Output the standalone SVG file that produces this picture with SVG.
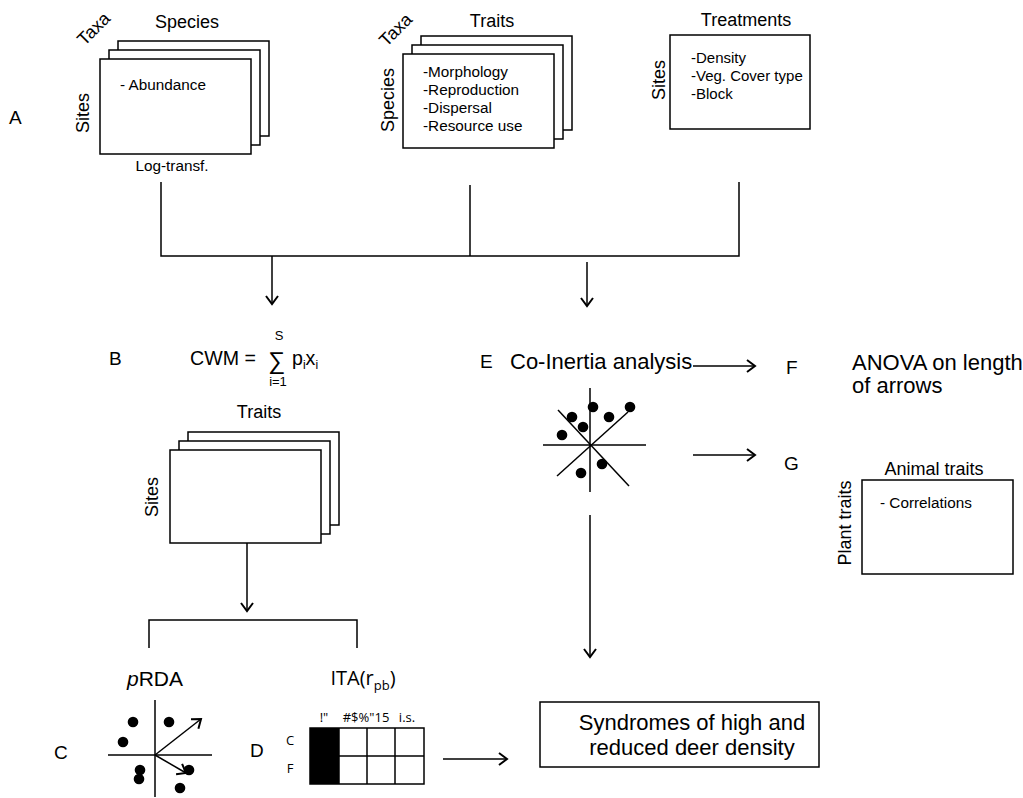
<svg xmlns="http://www.w3.org/2000/svg" width="1023" height="798" viewBox="0 0 1023 798">
<defs>
<marker id="ah" markerWidth="14" markerHeight="14" refX="10" refY="7" orient="auto" markerUnits="userSpaceOnUse">
<path d="M2,1 L10,7 L2,13" fill="none" stroke="#000" stroke-width="2"/>
</marker>
<style>
text{font-family:"Liberation Sans",Arial,sans-serif;fill:#000}
.box{fill:#fff;stroke:#000;stroke-width:1.5}
.ln{stroke:#000;stroke-width:1.5;fill:none}
.arr{stroke:#000;stroke-width:1.5;fill:none;marker-end:url(#ah)}
.lab{font-size:19px}
.t18{font-size:18px}
.t15{font-size:15.3px}
.t13{font-size:13px}
.big{font-size:22px}
.os{font-family:"Open Sans","DejaVu Sans",sans-serif}
</style>
</defs>
<rect width="1023" height="798" fill="#fff"/>

<text class="lab" x="9" y="124">A</text>

<g id="species">
<rect class="box" x="118" y="41" width="151" height="95"/>
<rect class="box" x="109" y="50" width="151" height="95"/>
<rect class="box" x="100" y="59" width="151" height="95"/>
<text class="t18" x="187" y="28" text-anchor="middle">Species</text>
<text class="t18" x="0" y="0" text-anchor="middle" transform="translate(98,33) rotate(-45)">Taxa</text>
<text class="t18" x="0" y="0" text-anchor="middle" transform="translate(89,113) rotate(-90)">Sites</text>
<text class="t15" x="120" y="90">- Abundance</text>
<text class="t15" x="172" y="171" text-anchor="middle">Log-transf.</text>
</g>

<g id="traits">
<rect class="box" x="421" y="36" width="151" height="94"/>
<rect class="box" x="412" y="45" width="151" height="94"/>
<rect class="box" x="403" y="54" width="151" height="94"/>
<text class="t18" x="492" y="27" text-anchor="middle">Traits</text>
<text class="t18" x="0" y="0" text-anchor="middle" transform="translate(400,34) rotate(-45)">Taxa</text>
<text class="t18" x="0" y="0" text-anchor="middle" transform="translate(394,100) rotate(-90)">Species</text>
<text class="t15" x="423" y="77">-Morphology</text>
<text class="t15" x="423" y="95">-Reproduction</text>
<text class="t15" x="423" y="113">-Dispersal</text>
<text class="t15" x="423" y="131">-Resource use</text>
</g>

<g id="treatments">
<rect class="box" x="670" y="35" width="140" height="94"/>
<text class="t18" x="746" y="26" text-anchor="middle">Treatments</text>
<text class="t18" x="0" y="0" text-anchor="middle" transform="translate(665,80) rotate(-90)">Sites</text>
<text style="font-size:15px" x="691" y="63">-Density</text>
<text style="font-size:15px" x="691" y="81">-Veg. Cover type</text>
<text style="font-size:15px" x="691" y="99">-Block</text>
</g>

<g id="cwm">
<text class="lab" x="109" y="365">B</text>
<text style="font-size:19.6px" x="190" y="365">CWM =</text>
<text style="font-size:24px" x="268" y="369">∑</text>
<text class="t13" x="279" y="340" text-anchor="middle">S</text>
<text class="t13" x="278" y="386" text-anchor="middle">i=1</text>
<text style="font-size:19.6px" x="292" y="365">p<tspan font-size="12" dy="4">i</tspan><tspan dy="-4">x</tspan><tspan font-size="12" dy="4">i</tspan></text>
</g>

<g id="sitesTraits">
<rect class="box" x="188" y="432" width="151" height="93"/>
<rect class="box" x="179" y="441" width="151" height="93"/>
<rect class="box" x="170" y="450" width="151" height="93"/>
<text class="t18" x="259" y="418" text-anchor="middle">Traits</text>
<text class="t18" x="0" y="0" text-anchor="middle" transform="translate(158,497) rotate(-90)">Sites</text>
</g>

<g id="coinertia">
<text class="lab" x="480" y="368">E</text>
<text class="big" x="510" y="369">Co-Inertia analysis</text>
<line class="ln" x1="543" y1="445" x2="646" y2="445"/>
<line class="ln" x1="590" y1="388" x2="590" y2="492"/>
<line class="ln" x1="558" y1="410" x2="629" y2="486"/>
<line class="ln" x1="557" y1="476" x2="628" y2="412"/>
<g fill="#000">
<circle cx="572" cy="417" r="5.3"/>
<circle cx="593" cy="407" r="5.3"/>
<circle cx="609" cy="417" r="5.3"/>
<circle cx="630" cy="407" r="5.3"/>
<circle cx="583" cy="427" r="5.3"/>
<circle cx="562" cy="435" r="5.3"/>
<circle cx="602" cy="464" r="5.3"/>
<circle cx="581" cy="473" r="5.3"/>
</g>
</g>

<g id="anova">
<text class="lab" x="786" y="374">F</text>
<text class="big" x="852" y="370">ANOVA on length</text>
<text class="big" x="852" y="393">of arrows</text>
</g>

<g id="correlations">
<text class="lab" x="784" y="470">G</text>
<text class="t18" x="934" y="475" text-anchor="middle">Animal traits</text>
<rect class="box" x="862" y="480" width="151" height="94"/>
<text class="t18" x="0" y="0" text-anchor="middle" transform="translate(851,523) rotate(-90)">Plant traits</text>
<text class="t15" x="880" y="508">- Correlations</text>
</g>

<g id="prda">
<text style="font-size:21px" x="155" y="686" text-anchor="middle"><tspan font-style="italic">p</tspan>RDA</text>
<text class="lab" x="54" y="759">C</text>
<line class="ln" x1="108" y1="755" x2="212" y2="755"/>
<line class="ln" x1="155" y1="700" x2="155" y2="797"/>
<line class="arr" x1="155" y1="755" x2="201" y2="719"/>
<line class="arr" x1="155" y1="755" x2="186" y2="773"/>
<g fill="#000">
<circle cx="133" cy="722" r="5.3"/>
<circle cx="169" cy="722" r="5.3"/>
<circle cx="123" cy="742" r="5.3"/>
<circle cx="140" cy="770" r="5.3"/>
<circle cx="139" cy="779" r="5.3"/>
<circle cx="189" cy="770" r="5.3"/>
<circle cx="180" cy="788" r="5.3"/>
</g>
</g>

<g id="ita">
<text class="os" style="font-size:20px" x="363" y="685" text-anchor="middle">ITA(r<tspan font-size="13" dy="5">pb</tspan><tspan dy="-5">)</tspan></text>
<text class="lab" x="250" y="757">D</text>
<text class="t13 os" x="324" y="722" text-anchor="middle">!"</text>
<text class="t13 os" x="366" y="722" text-anchor="middle">#$%"15</text>
<text class="t13 os" x="407" y="722" text-anchor="middle">i.s.</text>
<text class="t13 os" x="290" y="745" text-anchor="middle">C</text>
<text class="t13 os" x="290" y="773" text-anchor="middle">F</text>
<rect x="310" y="728" width="29" height="56" fill="#000"/>
<rect class="box" x="310" y="728" width="114" height="56" style="fill:none"/>
<line class="ln" x1="339" y1="728" x2="339" y2="784"/>
<line class="ln" x1="367" y1="728" x2="367" y2="784"/>
<line class="ln" x1="395" y1="728" x2="395" y2="784"/>
<line class="ln" x1="339" y1="756" x2="424" y2="756"/>
</g>

<g id="syndromes">
<rect class="box" x="540" y="702" width="279" height="65"/>
<text class="big" x="692" y="730" text-anchor="middle">Syndromes of high and</text>
<text class="big" x="692" y="755" text-anchor="middle">reduced deer density</text>
</g>

<g id="connectors">
<path class="ln" d="M161,182 V256 H739 V182"/>
<line class="ln" x1="470" y1="185" x2="470" y2="256"/>
<line class="arr" x1="272" y1="256" x2="272" y2="304"/>
<line class="arr" x1="587" y1="262" x2="587" y2="306"/>
<line class="arr" x1="693" y1="366" x2="755" y2="366"/>
<line class="arr" x1="693" y1="455" x2="755" y2="455"/>
<line class="arr" x1="590" y1="515" x2="590" y2="657"/>
<line class="arr" x1="247" y1="543" x2="247" y2="611"/>
<path class="ln" d="M149,648 V620 H357 V648"/>
<line class="arr" x1="443" y1="759" x2="507" y2="759"/>
</g>
</svg>
